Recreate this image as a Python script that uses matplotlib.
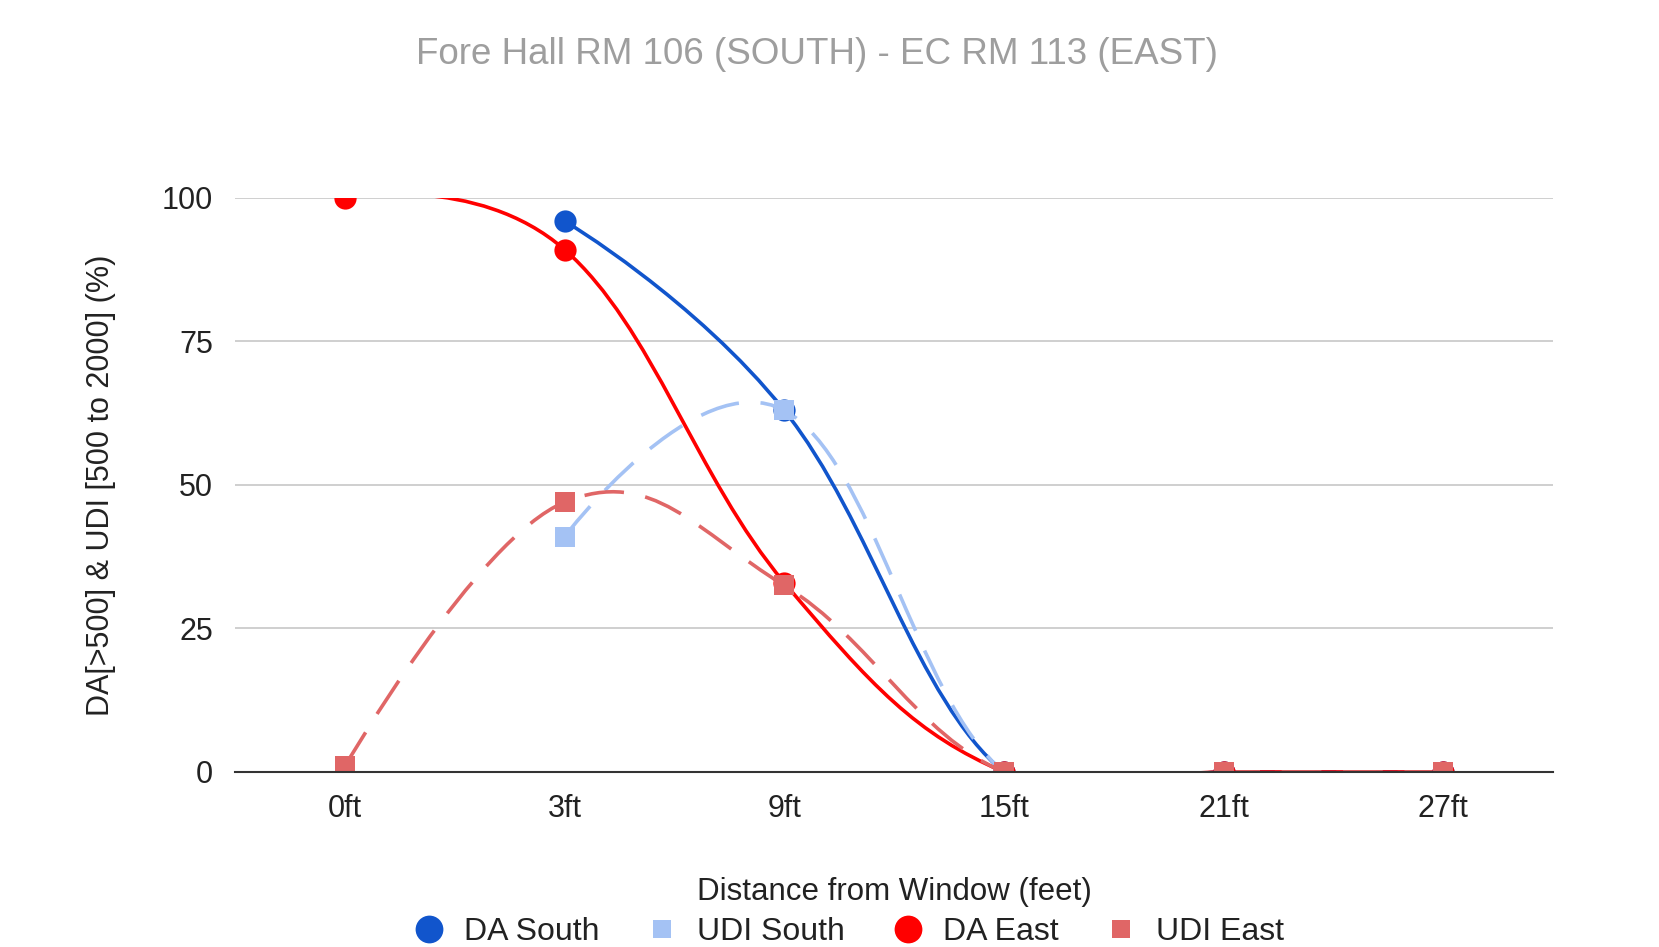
import matplotlib
matplotlib.use("Agg")
import matplotlib.pyplot as plt
from matplotlib.path import Path
from matplotlib.patches import PathPatch
from matplotlib.lines import Line2D
import numpy as np

plt.rcParams["font.family"] = ["Liberation Sans", "DejaVu Sans"]

categories = ["0ft", "3ft", "9ft", "15ft", "21ft", "27ft"]
da_south = [None, 96, 63, 0, 0, 0]
udi_south = [None, 41, 63, 0, 0, 0]
da_east = [100, 91, 33, 0, 0, 0]
udi_east = [1, 47, 32.5, 0, 0, 0]

subtitle = "Fore Hall RM 106 (SOUTH) - EC RM 113 (EAST)"
xlabel = "Distance from Window (feet)"
ylabel = "DA[>500] & UDI [500 to 2000] (%)"

# name, values, colour, marker, marker size, dashed
series = [
    ("DA South", da_south, "#1155cc", "o", 16, False),
    ("UDI South", udi_south, "#a4c2f4", "s", 14.5, True),
    ("DA East", da_east, "#ff0000", "o", 16, False),
    ("UDI East", udi_east, "#e06666", "s", 14.5, True),
]

SMOOTH = 0.2


def smooth_path(xs, ys):
    """Cardinal-spline style bezier path through the points (like sheets' smooth line)."""
    pts = np.column_stack([xs, ys]).astype(float)
    verts = [pts[0]]
    codes = [Path.MOVETO]
    n = len(pts)
    for i in range(n - 1):
        p0 = pts[i - 1] if i > 0 else pts[i]
        p1, p2 = pts[i], pts[i + 1]
        p3 = pts[i + 2] if i + 2 < n else pts[i + 1]
        c1 = p1 + SMOOTH * (p2 - p0) if i > 0 else p1
        c2 = p2 - SMOOTH * (p3 - p1) if i + 2 < n else p2
        verts += [c1, c2, p2]
        codes += [Path.CURVE4] * 3
    return Path(verts, codes)


fig = plt.figure(figsize=(16.59, 9.47), dpi=100)
ax = fig.add_axes([0.1417, 0.1848, 0.7944, 0.6062])

x = np.arange(len(categories))
for name, vals, color, marker, ms, dashed in series:
    xs = [xi for xi, v in zip(x, vals) if v is not None]
    ys = [v for v in vals if v is not None]
    ls = (0, (11, 6)) if dashed else "-"
    patch = PathPatch(smooth_path(xs, ys), fill=False, edgecolor=color,
                      lw=2.6, linestyle=ls, zorder=3, capstyle="butt")
    ax.add_patch(patch)
    ax.plot(xs, ys, linestyle="none", marker=marker, ms=ms, color=color,
            markeredgewidth=0, zorder=4)

ax.set_xlim(-0.5, len(categories) - 0.5)
ax.set_ylim(0, 100)
ax.set_xticks(x)
ax.set_xticklabels(categories)
ax.set_yticks([0, 25, 50, 75, 100])
ax.tick_params(length=0, labelsize=22, colors="#222222")
ax.tick_params(axis="y", pad=16)
ax.tick_params(axis="x", pad=16)
ax.grid(axis="y", color="#cccccc", lw=1.3)
ax.set_axisbelow(True)
for s in ["top", "right", "left"]:
    ax.spines[s].set_visible(False)
ax.spines["bottom"].set_color("#333333")
ax.spines["bottom"].set_linewidth(1.5)
ax.spines["bottom"].set_zorder(5)

ax.set_xlabel(xlabel, fontsize=22.5, color="#222222", labelpad=38)
ax.set_ylabel(ylabel, fontsize=22, color="#222222", labelpad=33)

fig.text(0.4925, 1 - 55 / 947, subtitle, ha="center", va="center",
         fontsize=26.5, color="#9e9e9e")

handles = [Line2D([], [], linestyle="none", marker=m, ms=(20 if m == "o" else 13),
                  color=c, markeredgewidth=0) for _, _, c, m, _, _ in series]
fig.legend(handles, [s[0] for s in series], loc="center", ncol=4,
           bbox_to_anchor=(0.5115, 1 - 932 / 947), frameon=False, fontsize=23,
           handletextpad=0.6, columnspacing=1.45, handlelength=1.0,
           labelcolor="#222222")

fig.savefig("out.png", dpi=100)
